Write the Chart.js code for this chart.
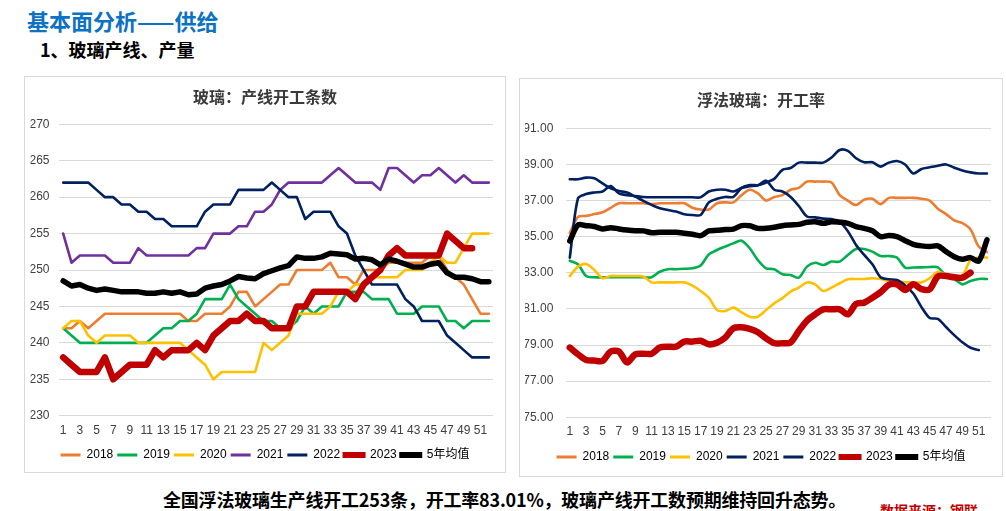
<!DOCTYPE html>
<html>
<head>
<meta charset="utf-8">
<title>基本面分析——供给</title>
<script src="https://cdn.jsdelivr.net/npm/chart.js@4.4.1/dist/chart.umd.min.js"></script>
<style>
  html,body{margin:0;padding:0;background:#fff;}
  body{width:1006px;height:511px;position:relative;overflow:hidden;font-family:"Noto Sans CJK SC",sans-serif;}
  .txt{position:absolute;white-space:nowrap;font-weight:700;}
  #head{left:27px;top:8px;font-size:22px;line-height:24px;color:#0b72c4;}
  #sub{left:40px;top:37px;font-size:18px;line-height:24px;color:#000;}
  #note{left:163px;top:487px;font-size:18px;line-height:24px;color:#000;letter-spacing:-0.2px;}
  #src{left:880px;top:502px;font-size:14px;line-height:16px;color:#c00000;}
  .panel{position:absolute;box-sizing:border-box;border:1px solid #d9d9d9;}
  canvas{position:absolute;}
</style>
</head>
<body>
<div class="txt" id="head">基本面分析——供给</div>
<div class="txt" id="sub">1、玻璃产线、产量</div>
<div class="panel" style="left:24px;top:76px;width:482px;height:397px;"></div>
<div class="panel" style="left:519px;top:78px;width:484px;height:399px;"></div>
<canvas id="lines" width="482" height="397" style="left:24px;top:76px;"></canvas>
<canvas id="rate" width="484" height="399" style="left:519px;top:78px;"></canvas>
<div class="txt" id="note">全国浮法玻璃生产线开工253条，开工率83.01%，玻璃产线开工数预期维持回升态势。</div>
<div class="txt" id="src">数据来源：钢联</div>
<script>
// 周次
var weeks = [1,2,3,4,5,6,7,8,9,10,11,12,13,14,15,16,17,18,19,20,21,22,23,24,25,26,
             27,28,29,30,31,32,33,34,35,36,37,38,39,40,41,42,43,44,45,46,47,48,49,50,51,52];
var years = ['2018','2019','2020','2021','2022','2023','5年均值'];

// 左图：产线开工条数
var lines2018 = [242,242,243,242,243,244,244,244,244,244,244,244,244,244,244,243,243,244,244,244,
                 245,247,247,245,246,247,248,248,250,250,250,250,251,249,249,248,250,250,250,251,
                 251,251,251,251,252,252,250,249,248,246,244,244];
var lines2019 = [242,241,240,240,240,240,240,240,240,240,240,241,242,242,243,243,244,246,246,246,
                 248,246,245,244,243,243,242,242,243,245,244,245,245,245,247,247,247,246,246,246,
                 244,244,244,245,245,245,243,243,242,243,243,243];
var lines2020 = [242,243,243,241,240,241,241,241,241,240,240,240,240,240,240,239,238,237,235,236,
                 236,236,236,236,240,239,240,241,244,244,244,244,245,247,247,248,248,249,249,249,
                 249,250,250,250,251,252,251,251,253,255,255,255];
var lines2021 = [255,251,252,252,252,252,251,251,251,253,252,252,252,252,252,252,253,253,255,255,
                 255,256,256,258,258,259,261,262,262,262,262,262,263,264,263,262,262,262,261,264,
                 264,263,262,263,263,264,263,262,263,262,262,262];
var lines2022 = [262,262,262,262,261,260,260,259,259,258,258,257,257,256,256,256,256,258,259,259,
                 259,261,261,261,261,262,261,260,260,257,258,258,258,256,255,252,250,248,248,248,
                 248,246,245,243,243,243,241,240,239,238,238,238];
var lines2023 = [238,237,236,236,236,238,235,236,237,237,237,239,238,239,239,239,240,239,241,242,
                 243,243,244,243,243,242,242,242,245,245,247,247,247,247,247,246,248,249,250,252,
                 253,252,252,252,252,252,255,254,253,253];
var linesAvg = [248.5,247.8,248.0,247.5,247.2,247.4,247.2,247.0,247.0,247.0,
                246.8,246.8,247.0,246.8,247.0,246.6,246.7,247.5,247.8,248.0,
                248.5,249.1,248.9,248.8,249.5,249.9,250.3,250.6,251.8,251.6,
                251.6,251.8,252.3,252.2,252.1,251.5,251.6,251.4,250.7,251.5,
                251.2,250.8,250.4,250.4,250.8,251.0,249.6,249.0,249.0,248.8,248.4,248.4];
var lineRange = [230, 270, 5];

// 右图：浮法玻璃开工率
var rate2018 = [85.2,86.1,86.15,86.25,86.35,86.6,86.85,86.85,86.85,86.85,
                86.8,86.85,86.85,86.85,86.85,86.6,86.5,86.5,86.85,86.9,
                86.9,87.3,87.6,87.4,87.0,87.2,87.3,87.6,87.7,88.05,
                88.05,88.05,88.0,87.3,87.0,86.75,87.05,87.1,86.8,87.15,
                87.15,87.15,87.15,87.1,87.0,86.55,86.25,85.9,85.75,85.4,84.45,84.15];
var rate2019 = [83.67,83.47,82.82,82.75,82.75,82.75,82.75,82.75,82.75,82.75,
                82.75,83.06,83.2,83.2,83.22,83.25,83.4,84.02,84.26,84.45,
                84.63,84.78,84.36,83.7,83.25,83.2,82.92,82.88,82.73,83.34,
                83.56,83.43,83.62,83.62,83.99,84.32,84.32,84.17,83.93,83.93,
                83.84,83.29,83.29,83.3,83.32,83.3,82.85,82.65,82.36,82.55,82.66,82.66];
var rate2020 = [82.82,83.34,83.49,83.16,82.7,82.82,82.82,82.82,82.82,82.8,
                82.47,82.47,82.47,82.47,82.47,82.29,81.99,81.62,80.94,80.89,
                81.07,80.81,80.57,80.57,80.94,81.31,81.6,81.96,82.18,82.46,
                82.36,81.99,82.18,82.42,82.64,82.66,82.66,82.7,82.66,82.55,
                82.51,82.47,82.47,82.47,82.7,83.06,82.88,82.8,82.85,83.7,83.84,83.84];
var rate2021 = [88.18,88.18,88.27,88.23,87.95,87.68,87.53,87.44,87.22,86.98,
                86.76,86.57,86.48,86.39,86.24,86.2,86.2,86.9,87.1,87.2,
                87.2,87.7,87.86,87.85,88.0,88.2,88.7,88.8,89.1,89.1,
                89.1,89.1,89.38,89.8,89.75,89.34,89.12,89.12,88.88,89.1,
                89.19,89.0,88.5,88.75,88.84,88.93,89.0,88.82,88.66,88.56,88.5,88.5];
var rate2022 = [83.84,87.12,87.36,87.45,87.5,87.8,87.4,87.3,87.25,87.2,
                87.18,87.18,87.18,87.18,87.18,87.18,87.18,87.5,87.6,87.6,
                87.5,87.7,87.8,87.85,88.1,87.6,87.5,87.2,86.7,86.12,
                86.07,86.0,85.98,85.83,85.3,84.54,83.99,83.47,82.75,82.64,
                82.6,82.3,81.85,81.1,80.5,80.45,80.0,79.55,79.15,78.85,78.72];
var rate2023 = [78.86,78.49,78.17,78.14,78.12,78.64,78.64,78.04,78.49,78.52,
                78.52,78.86,78.91,78.91,79.19,79.19,79.24,79.04,79.13,79.41,
                79.93,79.98,79.89,79.71,79.37,79.1,79.1,79.15,79.78,80.35,
                80.7,80.98,80.98,80.98,80.7,81.28,81.35,81.62,81.93,82.33,
                82.36,82.05,82.36,82.09,82.09,82.8,82.82,82.75,82.73,83.01];
var rateAvg = [84.76,85.65,85.61,85.56,85.43,85.5,85.43,85.37,85.33,85.32,
               85.22,85.24,85.24,85.24,85.19,85.13,85.06,85.32,85.35,85.4,
               85.42,85.61,85.6,85.46,85.46,85.52,85.61,85.65,85.68,85.8,
               85.83,85.74,85.83,85.8,85.74,85.56,85.46,85.33,85.0,85.06,
               85.0,84.78,84.58,84.49,84.45,84.49,84.17,83.89,83.75,83.84,83.65,84.82];
var rateRange = [75, 91, 2];

var lineColors = ['#ED7D31','#00B050','#FFC000','#7030A0','#002060','#C00000','#000000'];
var rateColors = ['#ED7D31','#00B050','#FFC000','#002060','#002060','#C00000','#000000'];
var widths = [2.6,2.6,2.6,2.6,2.6,6.5,5.5];

var tickFont = "'Liberation Sans',Arial,'Noto Sans CJK SC',sans-serif";
var axisColor = '#404040';

function makeChart(id, title, series, palette, range, digits, lay) {
    var datasets = series.map(function (values, i) {
        return {
            label: years[i],
            data: values,
            borderColor: palette[i],
            backgroundColor: palette[i],
            borderWidth: widths[i],
            pointRadius: 0,
            pointHoverRadius: 0,
            tension: lay.tension,
            borderJoinStyle: 'round',
            borderCapStyle: 'round',
            fill: false,
            order: series.length - i   // 后面的系列画在上面
        };
    });

    return new Chart(document.getElementById(id), {
        type: 'line',
        data: { labels: weeks, datasets: datasets },
        options: {
            responsive: false,
            animation: false,
            devicePixelRatio: 1,
            layout: { padding: { top: 0, left: lay.side, right: lay.side, bottom: lay.bottom } },
            plugins: {
                tooltip: { enabled: false },
                title: {
                    display: true,
                    text: title,
                    color: '#3a3a3a',
                    font: { family: "'Noto Sans CJK SC',sans-serif", size: 16, weight: 'bold' },
                    padding: { top: lay.titleTop, bottom: lay.titleBottom }
                },
                legend: {
                    position: 'bottom',
                    labels: {
                        boxWidth: 20,
                        boxHeight: 3,
                        padding: 4,
                        color: axisColor,
                        font: { family: tickFont, size: 12 },
                        // 图例按系列顺序，粗线用描边加粗
                        generateLabels: function (chart) {
                            return chart.data.datasets.map(function (ds, i) {
                                return {
                                    text: ds.label,
                                    fillStyle: ds.borderColor,
                                    strokeStyle: ds.borderColor,
                                    lineWidth: ds.borderWidth > 4 ? 3 : 0,
                                    hidden: false,
                                    datasetIndex: i
                                };
                            });
                        }
                    }
                }
            },
            scales: {
                x: {
                    offset: true,
                    grid: { display: false, drawTicks: false },
                    border: { display: false },
                    ticks: {
                        autoSkip: false, maxRotation: 0, minRotation: 0,
                        padding: lay.xPad, color: axisColor,
                        font: { family: tickFont, size: 12 },
                        callback: function (v, i) { return i % 2 === 0 ? weeks[i] : ''; }
                    },
                    afterFit: function (s) { s.height = lay.xHeight; }
                },
                y: {
                    min: range[0],
                    max: range[1],
                    grid: { color: '#d9d9d9', lineWidth: 1, drawTicks: false },
                    border: { display: false },
                    ticks: {
                        stepSize: range[2], padding: lay.yPad, color: axisColor,
                        font: { family: tickFont, size: 12 },
                        callback: function (v) { return v.toFixed(digits); }
                    },
                    afterFit: function (s) { s.width = lay.yWidth; }
                },
                // 右侧留白
                pad: {
                    type: 'linear',
                    position: 'right',
                    grid: { display: false, drawTicks: false },
                    border: { display: false },
                    ticks: { display: false },
                    afterFit: function (s) { s.width = lay.rightGap; }
                }
            }
        }
    });
}

makeChart('lines', '玻璃：产线开工条数',
    [lines2018, lines2019, lines2020, lines2021, lines2022, lines2023, linesAvg],
    lineColors, lineRange, 0,
    { side: 6.5, bottom: 2, titleTop: 11.4, titleBottom: 17.7, yWidth: 28.5, yPad: 9.5,
      xPad: 8.1, xHeight: 29.3, rightGap: 6.5, tension: 0 });

makeChart('rate', '浮法玻璃：开工率',
    [rate2018, rate2019, rate2020, rate2021, rate2022, rate2023, rateAvg],
    rateColors, rateRange, 2,
    { side: 6, bottom: 4, titleTop: 12.4, titleBottom: 18.7, yWidth: 40.7, yPad: 12.4,
      xPad: 7.5, xHeight: 29.7, rightGap: 6, tension: 0.3 });
</script>
</body>
</html>
